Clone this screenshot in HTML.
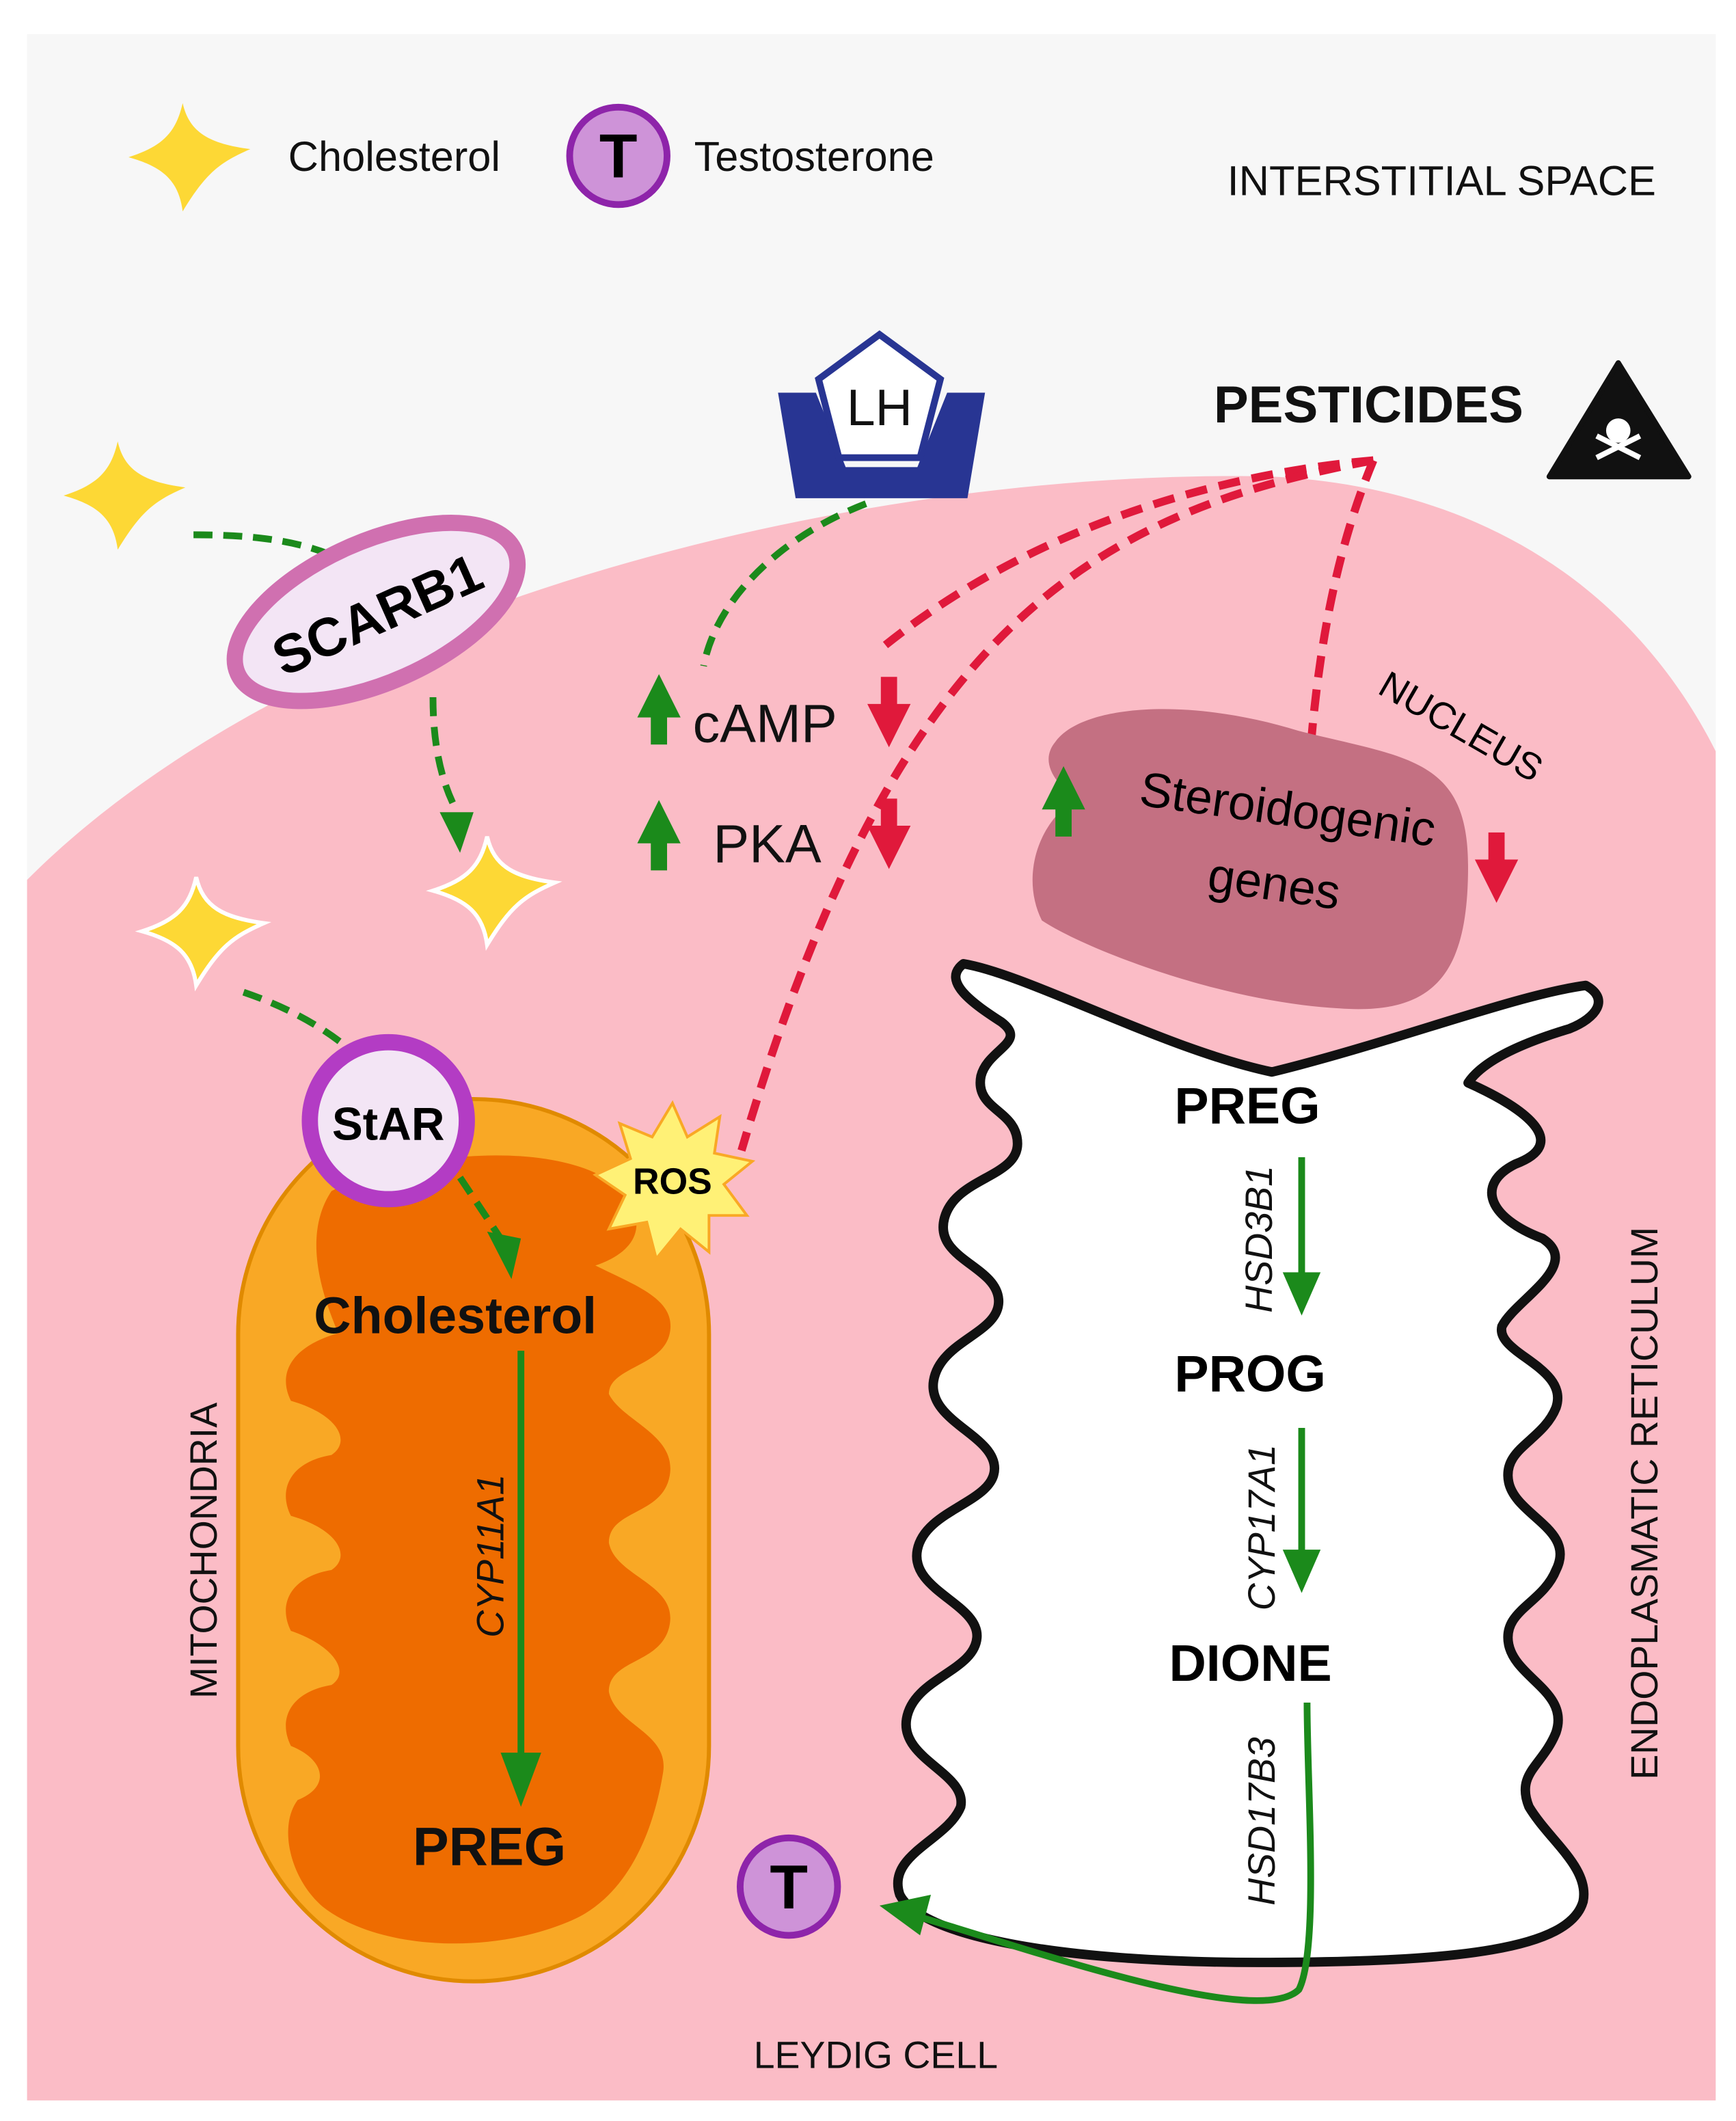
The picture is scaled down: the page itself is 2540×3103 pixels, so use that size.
<!DOCTYPE html>
<html><head><meta charset="utf-8"><style>html,body{margin:0;padding:0;background:#fff}svg{display:block}text{font-family:"Liberation Sans",sans-serif}</style></head><body>
<svg width="2540" height="3103" viewBox="0 0 1283 1567" xmlns="http://www.w3.org/2000/svg">
<defs>
<path id="star" d="M-5,-42 C0,-20 15,-12 45,-8 C22,2 12,10 -5,38 C-8,15 -20,5 -45,-2 C-20,-10 -10,-20 -5,-42Z"/>
</defs>
<rect x="0" y="0" width="1283" height="1567" fill="#fff"/>
<rect x="20" y="25" width="1248" height="1527" fill="#f7f7f7"/>
<path d="M20,650 C230,440 650,345 940,352 C1100,360 1210,440 1268,555 L1268,1552 L20,1552 Z" fill="#fbbcc6"/>
<use href="#star" x="140" y="118" fill="#fdd835"/>
<text x="213" y="126" font-size="31" fill="#111">Cholesterol</text>
<circle cx="457" cy="115" r="36" fill="#ce93d8" stroke="#8e24aa" stroke-width="5"/>
<text x="457" y="131" font-size="46" font-weight="bold" text-anchor="middle">T</text>
<text x="513" y="126" font-size="31" fill="#111">Testosterone</text>
<text x="907" y="144" font-size="31" fill="#111">INTERSTITIAL SPACE</text>
<path d="M575,290 L603,290 L625,345 L678,345 L700,290 L728,290 L715,368 L588,368 Z" fill="#283593"/>
<path d="M650,247 L695,280 L680,338 L620,338 L605,280 Z" fill="#fff" stroke="#283593" stroke-width="5"/>
<text x="650" y="314" font-size="38" text-anchor="middle" fill="#111">LH</text>
<text x="897" y="312" font-size="38.5" font-weight="bold" fill="#111">PESTICIDES</text>
<path d="M1196,268 L1248,352 L1145,352 Z" fill="#111" stroke="#111" stroke-width="4" stroke-linejoin="round"/>
<circle cx="1196" cy="318" r="9" fill="#fff"/><path d="M1180,322 L1212,338 M1212,322 L1180,338" stroke="#fff" stroke-width="4"/>
<use href="#star" x="92" y="368" fill="#fdd835"/>
<use href="#star" x="365" y="660" fill="#fdd835" stroke="#fff" stroke-width="3"/>
<use href="#star" x="150" y="690" fill="#fdd835" stroke="#fff" stroke-width="3"/>
<g fill="none" stroke="#1b8a1b" stroke-width="5" stroke-dasharray="14,8">
<path d="M143,395 C190,395 220,400 245,410"/>
<path d="M320,515 C320,560 330,585 338,600"/>
<path d="M180,733 C215,745 240,760 258,775"/>
<path d="M640,372 C580,395 530,440 520,492"/>
</g>
<path d="M325,600 L350,600 L340,630 Z" fill="#1b8a1b"/>
<g fill="none" stroke="#e0193b" stroke-width="6" stroke-dasharray="16,9">
<path d="M1015,340 C900,350 760,390 650,480"/>
<path d="M1015,340 C800,380 660,470 548,850"/>
<path d="M1015,340 C990,400 975,470 968,560"/>
</g>
<ellipse cx="278" cy="452" rx="112" ry="52" transform="rotate(-24 278 452)" fill="#f3e5f5" stroke="#d070b0" stroke-width="12"/>
<text x="278" y="468" font-size="40" font-weight="bold" text-anchor="middle" transform="rotate(-24 278 452)">SCARB1</text>
<text x="512" y="548" font-size="40" fill="#111">cAMP</text>
<text x="527" y="637" font-size="40" fill="#111">PKA</text>
<path d="M780,548 C800,520 880,515 960,540 C1040,560 1085,560 1085,640 C1085,720 1060,750 990,745 C900,740 800,700 770,680 C755,650 765,610 795,590 C775,575 770,560 780,548Z" fill="#c47082"/>
<g fill="#1b8a1b"><path d="M487,498 L503,530 L493,530 L493,550 L481,550 L481,530 L471,530 Z"/><path d="M487,591 L503,623 L493,623 L493,643 L481,643 L481,623 L471,623 Z"/><path d="M786,566 L802,598 L792,598 L792,618 L780,618 L780,598 L770,598 Z"/></g>
<g fill="#e0193b"><path d="M657,552 L641,520 L651,520 L651,500 L663,500 L663,520 L673,520 Z"/><path d="M657,642 L641,610 L651,610 L651,590 L663,590 L663,610 L673,610 Z"/><path d="M1106,667 L1090,635 L1100,635 L1100,615 L1112,615 L1112,635 L1122,635 Z"/></g>
<text x="950" y="610" font-size="36" text-anchor="middle" transform="rotate(8 950 610)">Steroidogenic</text>
<text x="940" y="665" font-size="36" text-anchor="middle" transform="rotate(8 940 665)">genes</text>
<text x="1075" y="545" font-size="28" text-anchor="middle" transform="rotate(30 1075 545)">NUCLEUS</text>
<path d="M712,712 C760,720 860,775 940,792 C1030,770 1120,735 1172,728 C1190,738 1180,752 1160,760 C1120,772 1095,785 1085,800 C1130,820 1160,845 1120,860 C1090,875 1100,900 1140,915 C1170,935 1120,960 1110,980 C1105,1000 1160,1010 1150,1040 C1140,1065 1110,1070 1115,1095 C1120,1120 1165,1130 1150,1160 C1140,1185 1110,1190 1115,1215 C1120,1240 1160,1250 1150,1280 C1140,1305 1120,1310 1130,1335 C1145,1360 1175,1380 1170,1405 C1160,1440 1080,1450 930,1450 C780,1450 680,1430 665,1400 C655,1370 700,1360 710,1335 C715,1310 665,1300 670,1270 C675,1240 720,1235 722,1210 C724,1185 672,1175 678,1145 C684,1115 735,1110 735,1085 C735,1060 685,1050 690,1020 C695,990 740,985 738,960 C736,935 690,930 698,900 C706,870 752,870 752,845 C752,820 720,820 725,795 C730,775 760,770 740,755 C720,742 695,725 712,712Z" fill="#fff" stroke="#111" stroke-width="7" stroke-linejoin="round"/>
<text x="868" y="830" font-size="38" font-weight="bold">PREG</text>
<text x="868" y="1028" font-size="38" font-weight="bold">PROG</text>
<text x="864" y="1242" font-size="38" font-weight="bold">DIONE</text>
<g font-size="28" font-style="italic" fill="#111">
<text transform="translate(940,970) rotate(-90)">HSD3B1</text>
<text transform="translate(942,1190) rotate(-90)">CYP17A1</text>
<text transform="translate(942,1408) rotate(-90)">HSD17B3</text>
</g>
<circle cx="583" cy="1394" r="36" fill="#ce93d8" stroke="#8e24aa" stroke-width="5"/>
<text x="583" y="1410" font-size="46" font-weight="bold" text-anchor="middle">T</text>
<rect x="176" y="812" width="348" height="652" rx="174" fill="#f9a825" stroke="#e08a00" stroke-width="3"/>
<path d="M245,880 C300,850 420,840 460,880 C480,905 470,925 440,935 C470,950 500,960 495,985 C490,1010 450,1010 450,1030 C460,1050 500,1060 495,1090 C490,1120 450,1115 450,1140 C455,1165 500,1170 495,1200 C490,1230 450,1225 450,1250 C455,1275 495,1280 490,1310 C485,1340 470,1400 420,1420 C360,1445 280,1440 240,1410 C215,1390 205,1350 220,1330 C245,1320 240,1300 215,1290 C205,1270 215,1250 245,1245 C260,1235 245,1215 215,1205 C205,1185 215,1165 245,1160 C260,1150 250,1130 215,1120 C205,1100 215,1080 245,1075 C260,1065 250,1045 215,1035 C205,1015 215,995 250,985 C235,950 225,910 245,880Z" fill="#ee6c00"/>
<text x="232" y="985" font-size="38" font-weight="bold" fill="#111">Cholesterol</text>
<text x="305" y="1378" font-size="40" font-weight="bold" fill="#111">PREG</text>
<text transform="translate(372,1210) rotate(-90)" font-size="28" font-style="italic" fill="#111">CYP11A1</text>
<g stroke="#1b8a1b" stroke-width="5" fill="none">
<path d="M962,855 L962,945"/><path d="M962,1055 L962,1150"/>
<path d="M966,1258 C966,1320 975,1440 960,1470 C930,1500 760,1440 675,1415"/>
<path d="M385,998 L385,1300"/>
<path d="M340,870 C350,885 360,900 370,915" stroke-dasharray="14,8"/>
</g>
<g fill="#1b8a1b"><path d="M948,940 L976,940 L962,972 Z"/><path d="M948,1145 L976,1145 L962,1177 Z"/><path d="M650,1408 L688,1400 L680,1430 Z"/><path d="M370,1295 L400,1295 L385,1335 Z"/><path d="M360,910 L385,915 L378,945 Z"/></g>
<circle cx="287" cy="828" r="58" fill="#f3e5f5" stroke="#b33cc4" stroke-width="12"/>
<text x="287" y="842" font-size="34" font-weight="bold" text-anchor="middle">StAR</text>
<path d="M497,815 L508,840 L532,825 L528,852 L556,858 L535,875 L552,898 L524,898 L524,925 L503,908 L485,930 L478,903 L450,908 L462,883 L440,868 L466,856 L458,830 L482,840 Z" fill="#fff176" stroke="#f9a825" stroke-width="2"/>
<text x="497" y="882" font-size="27" font-weight="bold" text-anchor="middle">ROS</text>
<text transform="translate(160,1255) rotate(-90)" font-size="28" fill="#111">MITOCHONDRIA</text>
<text transform="translate(1225,1315) rotate(-90)" font-size="28" fill="#111">ENDOPLASMATIC  RETICULUM</text>
<text x="557" y="1528" font-size="28" fill="#111">LEYDIG CELL</text>
</svg>
</body></html>
